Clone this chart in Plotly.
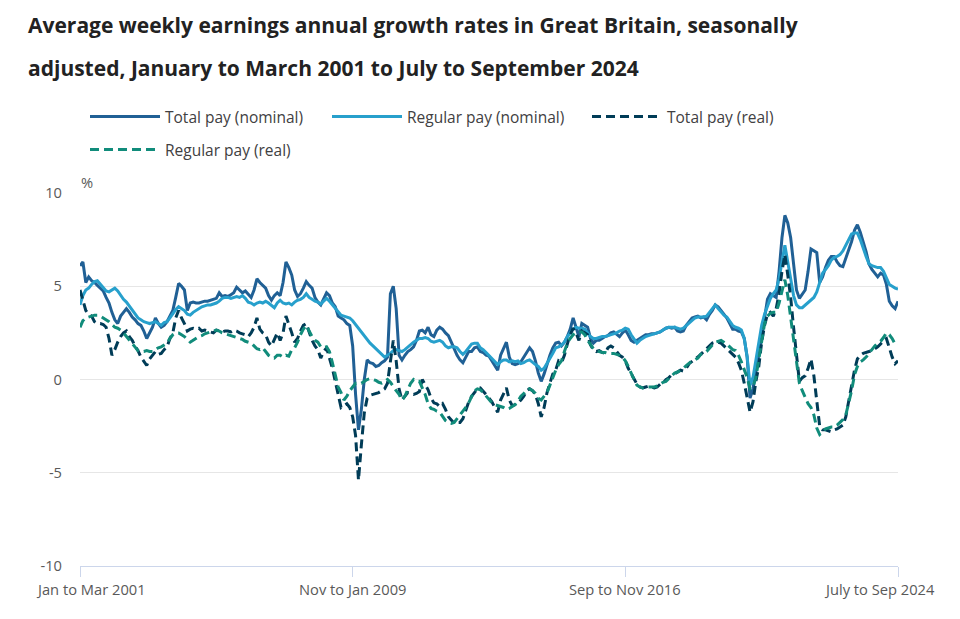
import plotly.graph_objects as go

# ---------------- data ----------------
MONTHS = ['Jan', 'Feb', 'Mar', 'Apr', 'May', 'June', 'July', 'Aug', 'Sep', 'Oct', 'Nov', 'Dec']
N_PERIODS = 283  # Jan to Mar 2001 ... July to Sep 2024
PERIODS = []
for k in range(N_PERIODS):
    end_m = (2 + k) % 12
    year = 2001 + (2 + k) // 12
    PERIODS.append(f"{MONTHS[(end_m - 2) % 12]} to {MONTHS[end_m]} {year}")

TICK_LABELS = ["Jan to Mar 2001", "Nov to Jan 2009", "Sep to Nov 2016", "July to Sep 2024"]
Y_TICKS = [-10, -5, 0, 5, 10]

total_nominal = [
    6.1, 6.3, 5.2, 5.5, 5.3, 5.2, 5.05, 4.9, 4.75, 4.4,                       # 2001
    4.1, 3.6, 3.2, 3.0, 3.4, 3.6, 3.8, 3.6, 3.35, 3.2, 3.0, 2.9,              # 2002
    2.6, 2.2, 2.5, 2.8, 3.3, 3.0, 2.8, 2.9, 3.1, 3.4, 3.7, 4.4,               # 2003
    5.15, 5.0, 4.8, 3.7, 4.1, 4.15, 4.1, 4.1, 4.15, 4.2, 4.2, 4.25,          # 2004
    4.3, 4.35, 4.65, 4.45, 4.5, 4.45, 4.55, 4.65, 4.95, 4.8, 4.65, 4.75,     # 2005
    4.6, 4.4, 4.8, 5.4, 5.2, 5.05, 4.9, 4.5, 4.25, 4.5, 4.65, 4.5,           # 2006
    5.2, 6.3, 6.0, 5.6, 4.8, 4.45, 4.6, 4.9, 5.25, 5.05, 4.9, 4.4,           # 2007
    4.15, 4.0, 4.3, 4.65, 4.5, 4.1, 3.9, 3.4, 3.3, 3.2, 3.0, 2.9,            # 2008
    1.8, -0.8, -2.7, -1.6, 0.0, 1.05, 0.9, 0.85, 0.7, 0.75, 0.9, 1.0,        # 2009
    1.2, 4.6, 5.0, 3.8, 1.3, 1.05, 1.3, 1.5, 1.6, 1.75, 2.1, 2.6,            # 2010
    2.65, 2.5, 2.8, 2.4, 2.3, 2.65, 2.8, 2.7, 2.5, 2.35, 2.0, 1.6,           # 2011
    1.3, 1.05, 0.9, 1.2, 1.5, 1.5, 1.7, 1.75, 1.5, 1.45, 1.3, 1.25,          # 2012
    1.0, 0.7, 0.5, 1.3, 1.7, 2.0, 1.2, 0.85, 0.8, 0.85, 0.95, 1.2,           # 2013
    1.45, 1.7, 1.5, 1.0, 0.35, -0.1, 0.3, 0.85, 1.3, 1.7, 1.95, 2.0,         # 2014
    1.8, 2.0, 2.3, 2.7, 3.3, 2.8, 2.3, 3.0, 2.9, 2.8, 2.2, 1.95,             # 2015
    2.1, 2.1, 2.2, 2.3, 2.35, 2.5, 2.55, 2.4, 2.3, 2.5, 2.65, 2.4,           # 2016
    2.1, 2.0, 2.1, 2.2, 2.3, 2.4, 2.4, 2.45, 2.45, 2.5, 2.55, 2.65,          # 2017
    2.75, 2.8, 2.75, 2.8, 2.6, 2.55, 2.6, 2.9, 3.1, 3.3, 3.35, 3.4,          # 2018
    3.3, 3.35, 3.2, 3.5, 3.7, 4.0, 3.9, 3.7, 3.5, 3.3, 3.0, 2.7,             # 2019
    2.7, 2.6, 2.55, 2.2, 1.2, -1.0, -0.5, 0.3, 1.3, 2.3, 3.4, 4.3,           # 2020
    4.6, 4.5, 4.4, 5.8, 7.6, 8.8, 8.4, 7.6, 6.0, 4.8, 4.35, 4.6,             # 2021
    4.8, 5.8, 7.0, 6.9, 6.8, 5.2, 5.5, 6.0, 6.4, 6.6, 6.6, 6.3,              # 2022
    6.1, 6.05, 6.5, 6.9, 7.4, 8.0, 8.3, 7.9, 7.4, 6.85, 6.2, 5.9,            # 2023
    5.7, 5.5, 5.7, 5.6, 5.1, 4.2, 3.95, 3.8, 4.2,                           # 2024
]

regular_nominal = [
    4.0, 4.5, 4.8, 4.9, 5.1, 5.25, 5.3, 5.1, 4.95, 4.75,                      # 2001
    4.7, 4.8, 4.9, 4.75, 4.5, 4.3, 4.15, 3.95, 3.75, 3.5, 3.3, 3.2,          # 2002
    3.1, 3.05, 3.0, 3.05, 3.1, 3.0, 2.9, 3.05, 3.1, 3.3, 3.55, 3.75,         # 2003
    3.9, 3.8, 3.7, 3.5, 3.45, 3.6, 3.7, 3.8, 3.9, 3.95, 4.0, 4.0,            # 2004
    4.05, 4.1, 4.2, 4.35, 4.4, 4.4, 4.35, 4.4, 4.45, 4.4, 4.5, 4.35,         # 2005
    4.15, 4.1, 4.0, 4.1, 4.15, 4.1, 4.2, 4.1, 3.95, 3.85, 4.1, 4.25,         # 2006
    4.1, 4.05, 4.1, 4.0, 4.15, 4.25, 4.3, 4.4, 4.6, 4.4, 4.3, 4.2,           # 2007
    4.15, 4.05, 4.2, 4.35, 4.2, 4.0, 3.85, 3.6, 3.45, 3.4, 3.35, 3.3,        # 2008
    3.15, 2.95, 2.75, 2.5, 2.3, 2.1, 1.95, 1.8, 1.65, 1.5, 1.3, 1.2,         # 2009
    1.3, 1.4, 1.55, 1.6, 1.55, 1.5, 1.6, 1.75, 1.85, 2.0, 2.1, 2.2,          # 2010
    2.2, 2.25, 2.2, 2.05, 2.0, 2.05, 2.1, 2.0, 1.8, 1.7, 1.75, 1.75,         # 2011
    1.7, 1.5, 1.35, 1.5, 1.7, 1.9, 1.95, 1.95, 1.7, 1.6, 1.45, 1.3,          # 2012
    1.1, 0.95, 0.8, 0.95, 1.05, 1.05, 0.95, 1.0, 0.95, 1.0, 0.85, 0.9,       # 2013
    1.0, 1.05, 0.9, 0.8, 0.7, 0.5, 0.6, 0.85, 1.1, 1.4, 1.7, 1.75,           # 2014
    1.85, 2.0, 2.3, 2.5, 2.7, 2.8, 2.75, 2.75, 2.7, 2.5, 2.3, 2.2,           # 2015
    2.2, 2.25, 2.3, 2.3, 2.35, 2.4, 2.45, 2.5, 2.6, 2.65, 2.75, 2.7,         # 2016
    2.4, 2.15, 1.95, 2.1, 2.2, 2.3, 2.35, 2.4, 2.45, 2.5, 2.55, 2.65,        # 2017
    2.75, 2.8, 2.8, 2.8, 2.75, 2.7, 2.75, 2.9, 3.05, 3.2, 3.3, 3.35,         # 2018
    3.35, 3.35, 3.4, 3.6, 3.85, 4.0, 3.8, 3.6, 3.45, 3.35, 3.1, 2.9,         # 2019
    2.8, 2.75, 2.65, 2.2, 1.2, -0.3, 0.1, 1.0, 2.0, 2.9, 3.5, 3.9,           # 2020
    4.35, 4.6, 4.8, 5.4, 6.4, 7.2, 6.3, 5.5, 4.5, 4.0, 3.85, 3.85,           # 2021
    4.0, 4.15, 4.3, 4.4, 4.7, 5.2, 5.7, 5.9, 6.1, 6.4, 6.55, 6.6,            # 2022
    6.7, 6.9, 7.2, 7.5, 7.8, 7.85, 7.85, 7.5, 7.0, 6.6, 6.2, 6.1,            # 2023
    6.05, 6.0, 6.0, 5.8, 5.45, 5.1, 5.0, 4.9, 4.85,                         # 2024
]

total_real = [
    4.8, 4.2, 3.7, 3.5, 3.4, 3.1, 3.0, 3.0, 2.95, 2.8,                        # 2001
    2.2, 1.3, 1.6, 2.0, 2.3, 2.5, 2.6, 2.3, 2.1, 1.8, 1.55, 1.2,             # 2002
    1.0, 0.75, 1.1, 1.3, 1.5, 1.35, 1.4, 1.6, 1.75, 2.2, 2.5, 3.3,           # 2003
    3.7, 3.3, 3.0, 2.6, 2.7, 2.75, 2.7, 2.75, 2.6, 2.65, 2.6, 2.55,          # 2004
    2.5, 2.65, 2.6, 2.55, 2.6, 2.6, 2.55, 2.65, 2.6, 2.5, 2.45, 2.4,         # 2005
    2.3, 2.5, 2.8, 3.3, 2.7, 2.5, 2.4, 2.0, 1.8, 2.2, 2.5, 2.1,              # 2006
    2.5, 3.4, 3.0, 2.5, 2.0, 2.2, 2.6, 2.9, 3.0, 2.5, 2.1, 1.8,              # 2007
    1.6, 1.15, 1.5, 1.7, 1.2, 0.6, -0.1, -0.9, -1.5, -1.4, -1.3, -1.5,       # 2008
    -2.0, -3.0, -5.4, -3.5, -1.8, -1.0, -0.85, -0.8, -0.75, -0.7, -0.6, -0.5,  # 2009
    -0.2, 1.0, 2.1, 1.0, -0.5, -1.1, -0.9, -0.7, -0.75, -0.8, -0.75, -0.65,  # 2010
    0.0, -0.3, -0.55, -1.0, -1.25, -1.3, -1.45, -1.3, -1.6, -2.0, -2.2, -2.35,  # 2011
    -2.3, -2.3, -2.1, -1.6, -1.2, -0.9, -0.7, -0.5, -0.45, -0.6, -0.8, -1.0,  # 2012
    -1.2, -1.5, -1.75, -1.1, -0.8, -0.45, -1.1, -1.4, -1.35, -1.25, -1.1, -0.9,  # 2013
    -0.6, -0.5, -0.6, -0.8, -1.3, -2.0, -1.5, -0.7, -0.2, 0.3, 0.5, 1.0,     # 2014
    0.9, 1.3, 1.9, 2.4, 2.75, 2.5, 2.1, 2.6, 2.5, 2.4, 1.85, 1.6,            # 2015
    1.5, 1.55, 1.45, 1.4, 1.7, 1.8, 1.7, 1.5, 1.3, 1.2, 1.0, 0.6,            # 2016
    0.3, 0.0, -0.25, -0.4, -0.45, -0.4, -0.35, -0.4, -0.45, -0.4, -0.25, -0.2,  # 2017
    0.0, 0.1, 0.25, 0.3, 0.4, 0.5, 0.45, 0.6, 0.85, 1.0, 1.1, 1.2,           # 2018
    1.35, 1.45, 1.6, 1.75, 1.95, 2.0, 2.0, 1.95, 1.8, 1.7, 1.55, 1.4,        # 2019
    1.2, 0.9, 0.5, -0.2, -1.0, -1.75, -1.2, -0.1, 0.7, 2.0, 2.9, 3.5,        # 2020
    3.6, 3.4, 3.8, 4.6, 5.8, 6.7, 5.6, 4.4, 2.8, 1.2, -0.1, 0.1,             # 2021
    0.2, 0.6, 1.1, 0.2, -1.0, -2.5, -2.7, -2.7, -2.75, -2.8, -2.7, -2.65,    # 2022
    -2.55, -2.45, -2.0, -1.1, -0.4, 0.5, 1.1, 1.3, 1.4, 1.45, 1.5, 1.55,     # 2023
    1.65, 1.75, 1.9, 2.1, 2.2, 1.7, 1.2, 0.85, 1.0,                         # 2024
]

regular_real = [
    2.8, 3.15, 3.3, 3.35, 3.4, 3.45, 3.45, 3.4, 3.3, 3.2,                     # 2001
    3.1, 2.95, 2.8, 2.75, 2.65, 2.5, 2.3, 2.1, 1.95, 1.7, 1.55, 1.5,         # 2002
    1.5, 1.55, 1.5, 1.5, 1.6, 1.7, 1.75, 1.85, 1.95, 2.2, 2.4, 2.5,          # 2003
    2.5, 2.4, 2.3, 2.15, 2.0, 2.1, 2.2, 2.3, 2.35, 2.45, 2.5, 2.55,          # 2004
    2.6, 2.65, 2.6, 2.5, 2.45, 2.4, 2.35, 2.3, 2.25, 2.2, 2.15, 2.05,        # 2005
    2.0, 1.95, 1.8, 1.65, 1.6, 1.7, 1.5, 1.3, 1.2, 1.15, 1.3, 1.3,           # 2006
    1.2, 1.3, 1.25, 1.6, 1.7, 2.0, 2.4, 2.7, 2.9, 2.6, 2.3, 2.1,             # 2007
    2.0, 1.75, 1.7, 1.75, 1.5, 0.9, 0.2, -0.4, -0.7, -1.1, -0.9, -0.6,       # 2008
    -0.4, -0.2, -0.2, -0.2, -0.1, 0.0, 0.05, 0.0, -0.05, -0.15, -0.2, -0.1,  # 2009
    0.0, -0.15, -0.4, -0.6, -0.8, -1.1, -0.9, -0.55, -0.2, 0.0, -0.1, -0.1,  # 2010
    -0.45, -0.8, -1.3, -1.55, -1.6, -1.7, -1.75, -2.0, -2.2, -2.3, -2.35, -2.3,  # 2011
    -2.1, -1.9, -1.75, -1.5, -1.25, -0.9, -0.6, -0.5, -0.55, -0.7, -0.9, -1.1,  # 2012
    -1.25, -1.35, -1.4, -1.45, -1.5, -1.6, -1.55, -1.45, -1.35, -1.15, -0.9, -0.75,  # 2013
    -0.55, -0.5, -0.6, -0.75, -1.0, -1.1, -0.9, -0.7, -0.3, 0.15, 0.5, 0.8,  # 2014
    1.0, 1.5, 1.95, 2.2, 2.4, 2.5, 2.55, 2.55, 2.4, 2.1, 1.85, 1.65,         # 2015
    1.55, 1.5, 1.45, 1.45, 1.4, 1.4, 1.4, 1.35, 1.3, 1.2, 1.0, 0.7,          # 2016
    0.3, 0.0, -0.3, -0.4, -0.45, -0.4, -0.4, -0.4, -0.4, -0.35, -0.25, -0.15,  # 2017
    -0.1, 0.05, 0.2, 0.35, 0.4, 0.5, 0.6, 0.75, 0.9, 1.0, 1.05, 1.15,        # 2018
    1.35, 1.4, 1.5, 1.7, 1.85, 2.0, 2.05, 2.1, 2.0, 1.9, 1.75, 1.6,          # 2019
    1.55, 1.3, 0.95, 0.5, 0.1, -0.5, -0.4, 0.1, 1.0, 1.9, 3.0, 3.4,          # 2020
    3.55, 3.6, 3.6, 4.1, 4.8, 5.35, 4.5, 3.3, 2.1, 0.8, -0.2, -0.6,          # 2021
    -1.0, -1.3, -1.5, -1.9, -2.6, -2.95, -2.8, -2.65, -2.6, -2.55, -2.55, -2.45,  # 2022
    -2.3, -2.15, -1.9, -1.3, -0.6, 0.25, 0.7, 0.95, 1.05, 1.2, 1.4, 1.65,    # 2023
    1.8, 1.95, 2.05, 2.25, 2.5, 2.4, 2.2, 1.9, 1.9,                         # 2024
]

SERIES = [
    ("Total pay (nominal)", total_nominal, "#206095", "solid", "legend"),
    ("Regular pay (nominal)", regular_nominal, "#27a0cc", "solid", "legend2"),
    ("Total pay (real)", total_real, "#003c57", "9px,5px", "legend3"),
    ("Regular pay (real)", regular_real, "#118c7b", "9px,5px", "legend4"),
]

# ---------------- figure ----------------
W, H = 960, 619
L_M, R_M, T_M, B_M = 80, 62, 193, 53
PW, PH = W - L_M - R_M, H - T_M - B_M


def px_to_paper_x(px):
    return (px - L_M) / PW


def px_to_paper_y(py):
    return (H - B_M - py) / PH


FONT = "Open Sans"
AXIS_FONT = dict(family=FONT, size=14.7, color="#595959")
# horizontal nudges of the category labels (outer ones kept inside the chart)
LABEL_SHIFTS = [11, 0, 0, -19]

fig = go.Figure()
for name, vals, color, dash, leg in SERIES:
    assert len(vals) == N_PERIODS, (name, len(vals))
    fig.add_trace(go.Scatter(
        x=PERIODS, y=vals, name=name, mode="lines",
        line=dict(color=color, width=3, dash=dash),
        legend=leg,
        hovertemplate="%{x}: %{y}%<extra>" + name + "</extra>",
    ))

legend_common = dict(
    orientation="h", xanchor="left", yanchor="middle",
    font=dict(family=FONT, size=15.5, color="#414042"),
    bgcolor="rgba(0,0,0,0)", itemwidth=70, borderwidth=0,
)
legend_pos = {
    "legend": (85, 117),
    "legend2": (327, 117),
    "legend3": (587, 117),
    "legend4": (85, 150),
}
layout_legends = {}
for key, (lx, ly) in legend_pos.items():
    layout_legends[key] = dict(legend_common, x=px_to_paper_x(lx), y=px_to_paper_y(ly))

annotations = [
    dict(text="<b>Average weekly earnings annual growth rates in Great Britain, seasonally</b>",
         xref="paper", yref="paper", x=px_to_paper_x(26), y=px_to_paper_y(25),
         xanchor="left", yanchor="middle", showarrow=False,
         font=dict(family=FONT, size=21, color="#222222")),
    dict(text="<b>adjusted, January to March 2001 to July to September 2024</b>",
         xref="paper", yref="paper", x=px_to_paper_x(26), y=px_to_paper_y(68),
         xanchor="left", yanchor="middle", showarrow=False,
         font=dict(family=FONT, size=21, color="#222222")),
    dict(text="%", xref="paper", yref="paper", x=px_to_paper_x(79), y=px_to_paper_y(182),
         xanchor="left", yanchor="middle", showarrow=False, font=AXIS_FONT),
]
# category-axis labels, placed on the x axis scale under their tick marks
for lab, shift in zip(TICK_LABELS, LABEL_SHIFTS):
    annotations.append(dict(
        text=lab, xref="x", yref="paper", x=lab, y=px_to_paper_y(577),
        xanchor="center", yanchor="top", xshift=shift, showarrow=False,
        font=AXIS_FONT,
    ))

fig.update_layout(
    width=W, height=H,
    margin=dict(l=L_M, r=R_M, t=T_M, b=B_M),
    paper_bgcolor="white", plot_bgcolor="white",
    font=dict(family=FONT, color="#595959"),
    showlegend=True,
    **layout_legends,
    xaxis=dict(
        type="category", categoryorder="array", categoryarray=PERIODS,
        range=[0, N_PERIODS - 1],
        tickmode="array", tickvals=TICK_LABELS, showticklabels=False,
        showgrid=False, zeroline=False,
        showline=True, linecolor="#ccd6eb", linewidth=1,
        ticks="outside", ticklen=10, tickcolor="#ccd6eb", tickwidth=1,
        fixedrange=True, automargin=False,
    ),
    yaxis=dict(
        range=[-10, 10], tickmode="array", tickvals=Y_TICKS,
        ticktext=[str(v) for v in Y_TICKS],
        showgrid=True, gridcolor="#e6e6e6", gridwidth=1,
        zeroline=False, showline=False, ticks="",
        ticklabelstandoff=17, tickfont=AXIS_FONT,
        fixedrange=True, automargin=False,
    ),
    annotations=annotations,
)

fig.write_html("out.html", config={"displayModeBar": False},
               post_script="document.body.style.margin='0px';")
